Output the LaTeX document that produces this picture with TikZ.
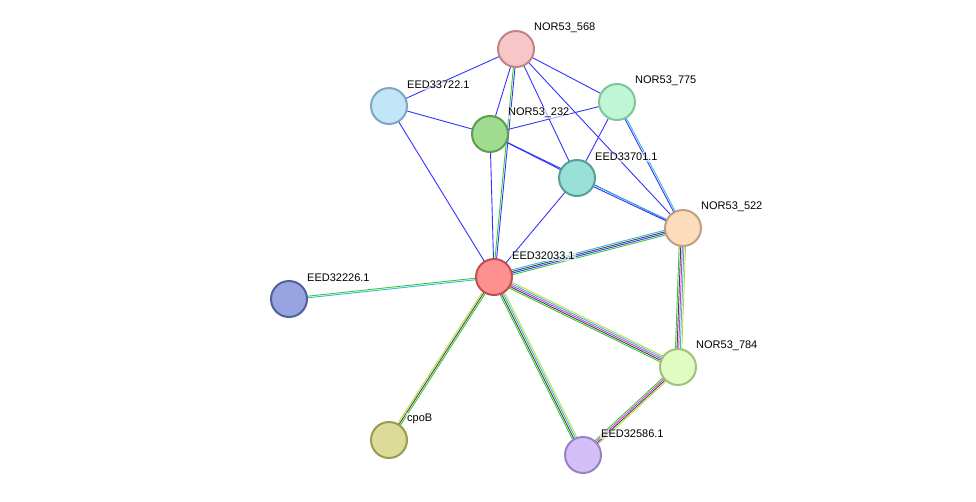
\documentclass[tikz,border=0pt]{standalone}
\usepackage{fontspec}
\setmainfont{Liberation Sans}
\usetikzlibrary{calc,backgrounds}
\definecolor{eg}{HTML}{33CC33}
\definecolor{eb}{HTML}{3333FF}
\definecolor{ek}{HTML}{444444}
\definecolor{ec}{HTML}{33BBDD}
\definecolor{em}{HTML}{DD33DD}
\definecolor{ey}{HTML}{BBDD33}
\newcommand\medge[3]{%
  \foreach \cc [count=\ii] in {#3} {%
    \pgfmathsetmacro\off{(\ii-(#2+1)/2)*1.6}
    \draw[line width=0.9pt,\cc] ($(#1-a)!\off pt!90:(#1-b)$) -- ($(#1-b)!\off pt!-90:(#1-a)$);
  }}
\newcommand\E[3]{\coordinate (#1-a) at (#2); \coordinate (#1-b) at (#3);}
\begin{document}
\begin{tikzpicture}[x=1pt,y=-1pt,
  prot/.style={circle,minimum size=36pt,inner sep=0pt,line width=2pt},
  lbl/.style={anchor=west,font=\fontsize{11}{13}\selectfont,inner sep=1pt,fill=white,fill opacity=0.6,text opacity=1}]
\useasboundingbox (0,0) rectangle (976,501);
\def\N#1#2#3#4#5#6{\node[prot,fill=#5,draw=#6] (#1) at (#2,#3) {}; \node[lbl] (#1l) at (#2+17,#3-21) {#4};}
\definecolor{f1}{HTML}{F7C6C6}\definecolor{s1}{HTML}{C08484}
\definecolor{f2}{HTML}{C2E5F8}\definecolor{s2}{HTML}{7FA6C4}
\definecolor{f3}{HTML}{BFF7D6}\definecolor{s3}{HTML}{80C49A}
\definecolor{f4}{HTML}{A0DC90}\definecolor{s4}{HTML}{5F9E50}
\definecolor{f5}{HTML}{98E0D8}\definecolor{s5}{HTML}{5A9E98}
\definecolor{f6}{HTML}{FDDCBC}\definecolor{s6}{HTML}{C0A080}
\definecolor{f7}{HTML}{FF9090}\definecolor{s7}{HTML}{C05050}
\definecolor{f8}{HTML}{98A4E0}\definecolor{s8}{HTML}{5060A0}
\definecolor{f9}{HTML}{E0FCC0}\definecolor{s9}{HTML}{A0C080}
\definecolor{fa}{HTML}{DCDC98}\definecolor{sa}{HTML}{9A9A50}
\definecolor{fb}{HTML}{D4C0F8}\definecolor{sb}{HTML}{9A80C8}
\N{n568}{516}{49}{NOR53\_568}{f1}{s1}
\N{e722}{389}{106}{EED33722.1}{f2}{s2}
\N{n775}{617}{102}{NOR53\_775}{f3}{s3}
\N{n232}{490}{134}{NOR53\_232}{f4}{s4}
\N{e701}{577}{178}{EED33701.1}{f5}{s5}
\N{n522}{683}{228}{NOR53\_522}{f6}{s6}
\N{e033}{494}{277}{EED32033.1}{f7}{s7}
\N{e226}{289}{299}{EED32226.1}{f8}{s8}
\N{n784}{678}{367}{NOR53\_784}{f9}{s9}
\N{cpo}{389}{440}{cpoB}{fa}{sa}
\N{e586}{583}{455}{EED32586.1}{fb}{sb}
\begin{scope}[on background layer]
\E{a1}{n568}{e722}\medge{a1}{1}{eb}
\E{a2}{n568}{n232}\medge{a2}{1}{eb}
\E{a3}{n568}{n775}\medge{a3}{1}{eb}
\E{a4}{n568}{e701}\medge{a4}{1}{eb}
\E{a5}{n568}{n522}\medge{a5}{1}{eb}
\E{a6}{n568}{e033}\medge{a6}{2}{eg,eb}
\E{a7}{e722}{n232}\medge{a7}{1}{eb}
\E{a8}{e722}{e033}\medge{a8}{1}{eb}
\E{a9}{n232}{n775}\medge{a9}{1}{eb}
\E{b1}{n232}{e701}\medge{b1}{1}{eb}
\E{b2}{n232}{n522}\medge{b2}{1}{eb}
\E{b3}{n232}{e033}\medge{b3}{1}{eb}
\E{b4}{n775}{e701}\medge{b4}{1}{eb}
\E{b5}{n775}{n522}\medge{b5}{2}{eb,ec}
\E{b6}{e701}{n522}\medge{b6}{2}{eb,ec}
\E{b7}{e701}{e033}\medge{b7}{1}{eb}
\E{c1}{e033}{n522}\medge{c1}{4}{eg,eb,ek,ec}
\E{c2}{e033}{e226}\medge{c2}{2}{eg,ec}
\E{c3}{e033}{n784}\medge{c3}{5}{eg,ek,em,ec,ey}
\E{c4}{e033}{cpo}\medge{c4}{3}{ey,ek,eg}
\E{c5}{e033}{e586}\medge{c5}{4}{eg,ek,ec,ey}
\E{c6}{n522}{n784}\medge{c6}{5}{eg,ek,em,ec,ey}
\E{c7}{n784}{e586}\medge{c7}{4}{eg,em,ek,ey}
\end{scope}
\end{tikzpicture}
\end{document}
